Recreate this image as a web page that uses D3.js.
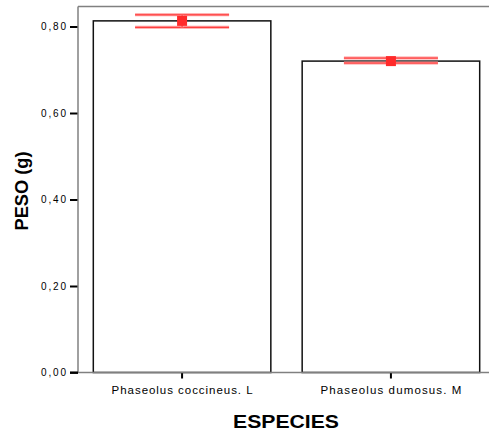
<!DOCTYPE html>
<html>
<head>
<meta charset="utf-8">
<script src="https://cdn.jsdelivr.net/npm/d3@7"></script>
<style>
  html, body { margin: 0; padding: 0; background: #fff; }
  svg { display: block; }
  text { font-family: "Liberation Sans", Arial, sans-serif; fill: #000; }
</style>
</head>
<body>
<svg id="chart" width="489" height="434"></svg>
<script>
// Mean seed weight per species with 95% confidence interval
const especies = ["Phaseolus coccineus. L", "Phaseolus dumosus. M"];
const pesoMedio = [0.813, 0.720];
const icInferior = [0.798, 0.7155];
const icSuperior = [0.827, 0.727];
const yTicks = [0, 0.2, 0.4, 0.6, 0.8];
const yTickLabels = ["0,00", "0,20", "0,40", "0,60", "0,80"];

const svg = d3.select("#chart");
const left = 78, bottom = 372.5, pxPerUnit = 432.5;
const yMax = 0.846;

const y = d3.scaleLinear().domain([0, yMax]).range([bottom, bottom - yMax * pxPerUnit]);
const x = d3.scaleBand()
  .domain(especies)
  .range([left, 495])
  .paddingInner(0.15)
  .paddingOuter(0.0733);

// frame: top line
svg.append("line")
  .attr("x1", left).attr("x2", 495)
  .attr("y1", y(yMax)).attr("y2", y(yMax))
  .attr("stroke", "#808080").attr("stroke-width", 1.5);

// bars
svg.append("g").selectAll("rect")
  .data(especies)
  .join("rect")
  .attr("x", d => x(d))
  .attr("y", (d, i) => y(pesoMedio[i]))
  .attr("width", x.bandwidth())
  .attr("height", (d, i) => y(0) - y(pesoMedio[i]))
  .attr("fill", "#fff")
  .attr("stroke", "#111")
  .attr("stroke-width", 1.5);

// y axis
const yAxis = d3.axisLeft(y)
  .tickValues(yTicks)
  .tickFormat((d, i) => yTickLabels[i])
  .tickSize(8)
  .tickPadding(4);
const gy = svg.append("g").attr("transform", `translate(${left},0)`).call(yAxis);
gy.select(".domain").remove();
gy.selectAll(".tick line").attr("stroke", "#000").attr("stroke-width", 2);
gy.selectAll(".tick text")
  .attr("font-size", 10)
  .attr("textLength", 25)
  .attr("lengthAdjust", "spacing")
  .attr("fill", "#222");
svg.append("line")
  .attr("x1", left).attr("x2", left)
  .attr("y1", y(yMax)).attr("y2", y(0))
  .attr("stroke", "#808080").attr("stroke-width", 1.5);

// x axis
const xAxis = d3.axisBottom(x).tickSize(6).tickPadding(6);
const gx = svg.append("g").attr("transform", `translate(0,${y(0)})`).call(xAxis);
gx.select(".domain").remove();
gx.selectAll(".tick line").attr("stroke", "#000").attr("stroke-width", 2);
gx.selectAll(".tick text")
  .attr("font-size", 11.5)
  .attr("textLength", 141)
  .attr("lengthAdjust", "spacing")
  .attr("fill", "#222")
  .attr("dy", "0.85em");
svg.append("line")
  .attr("x1", left - 8).attr("x2", 495)
  .attr("y1", y(0)).attr("y2", y(0))
  .attr("stroke", "#808080").attr("stroke-width", 1.5);
svg.append("line")
  .attr("x1", left - 8).attr("x2", left)
  .attr("y1", y(0)).attr("y2", y(0))
  .attr("stroke", "#000").attr("stroke-width", 2);

// confidence intervals and mean markers
const capHalf = 47;
const ci = svg.append("g");
especies.forEach((d, i) => {
  const cx = x(d) + x.bandwidth() / 2;
  const segs = [
    [cx - capHalf, y(icSuperior[i]), cx + capHalf, y(icSuperior[i])],
    [cx - capHalf, y(icInferior[i]), cx + capHalf, y(icInferior[i])],
    [cx, y(icSuperior[i]), cx, y(icInferior[i])]
  ];
  segs.forEach(s => {
    ci.append("line")
      .attr("x1", s[0]).attr("y1", s[1]).attr("x2", s[2]).attr("y2", s[3])
      .attr("stroke", "#ff9a9a").attr("stroke-width", 3);
    ci.append("line")
      .attr("x1", s[0]).attr("y1", s[1]).attr("x2", s[2]).attr("y2", s[3])
      .attr("stroke", "#ff3030").attr("stroke-width", 1);
  });
  ci.append("rect")
    .attr("x", cx - 5).attr("y", y(pesoMedio[i]) - 5)
    .attr("width", 10).attr("height", 10)
    .attr("fill", "#ff2a2a");
});

// axis titles
svg.append("text")
  .attr("x", 286).attr("y", 428)
  .attr("text-anchor", "middle")
  .attr("font-size", 18).attr("font-weight", "bold")
  .attr("textLength", 106).attr("lengthAdjust", "spacingAndGlyphs")
  .text("ESPECIES");

svg.append("text")
  .attr("transform", "translate(28,191) rotate(-90)")
  .attr("text-anchor", "middle")
  .attr("font-size", 18).attr("font-weight", "bold")
  .attr("textLength", 79).attr("lengthAdjust", "spacingAndGlyphs")
  .text("PESO (g)");
</script>
</body>
</html>
